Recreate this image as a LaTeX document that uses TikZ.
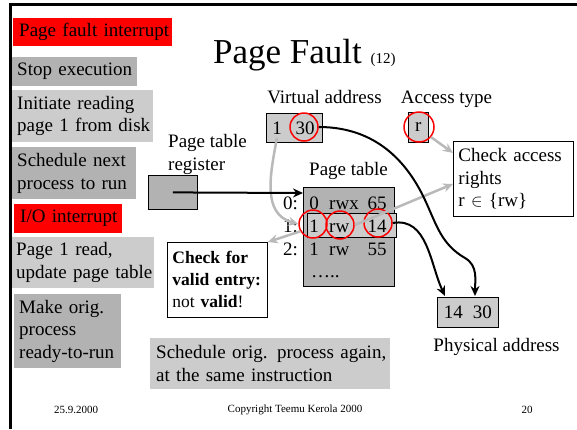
\documentclass[tikz,border=0pt]{standalone}
\usepackage{fontspec}
\setmainfont{Liberation Serif}
\usepackage{xcolor}
\usepackage{tikz}
\usetikzlibrary{arrows.meta,calc}

\definecolor{slidered}{RGB}{255,0,0}
\definecolor{boxgray}{RGB}{178,178,178}
\definecolor{boxlight}{RGB}{204,204,204}
\definecolor{arrowgray}{RGB}{185,185,185}

\newcommand{\bodyfont}{\fontsize{19}{22.5}\selectfont}
\newcommand{\notefont}{\fontsize{17.5}{22}\selectfont}
\newcommand{\footfont}{\fontsize{11}{13}\selectfont}

\tikzset{
    leftbox/.style={anchor=north west, inner sep=0pt,
        execute at begin node={\parindent=0pt\leftskip=#1\rightskip=0pt plus 1fil\hyphenpenalty=10000\exhyphenpenalty=10000}},
    leftbox/.default=5pt,
    redbox/.style={leftbox=#1, fill=slidered},
    redbox/.default=5pt,
    graybox/.style={leftbox=#1, fill=boxgray},
    graybox/.default=5pt,
    lightbox/.style={leftbox=#1, fill=boxlight},
    lightbox/.default=5pt,
    notebox/.style={leftbox=#1, draw, fill=white, line width=0.9pt},
    notebox/.default=5pt,
    plainbox/.style={draw, anchor=north west, inner sep=0pt, line width=0.8pt},
    cell/.style={inner sep=0pt},
    hit/.style={circle, draw=red, line width=1.5pt, minimum size=28pt, inner sep=0pt},
    fwd/.style={->, line width=2pt},
    back/.style={->, draw=arrowgray, line width=2.5pt}
}

\begin{document}
\begin{tikzpicture}[x=1pt, y=-1pt, >={Stealth[length=10pt,width=9pt]}, font=\bodyfont]

    % Slide frame
    \useasboundingbox (0,0) rectangle (577,429);
    \draw[line width=2.5pt] (10.5,429) -- (10.5,4.5) -- (577,4.5);

    % Title
    \node[anchor=base west, inner sep=0pt] (title) at (213,63)
        {{\fontsize{35}{40}\selectfont Page Fault }{\fontsize{15}{18}\selectfont (12)}};

    % Steps on the left
    \node[redbox=6pt, text width=159pt, minimum height=28pt] (pfint) at (13,18) {Page fault interrupt};
    \node[graybox, text width=125pt, minimum height=29pt] (stop) at (12,57) {Stop execution};
    \node[lightbox, text width=141pt, minimum height=52pt] (initread) at (12,90) {Initiate reading\\page 1 from disk};
    \node[graybox, text width=124pt, minimum height=52pt] (schednext) at (12,147) {Schedule next\\process to run};
    \node[redbox=6pt, text width=108pt, minimum height=29pt] (iointr) at (14,204) {I/O interrupt};
    \node[lightbox=4pt, text width=142pt, minimum height=51pt] (pageread) at (12,237) {Page 1 read,\\update page table};
    \node[graybox, text width=107pt, minimum height=74pt] (makeready) at (14,294) {Make orig.\\process\\ready-to-run};
    \node[lightbox=6pt, text width=240pt, minimum height=51pt] (schedagain) at (150,338) {Schedule orig. process again,\\at the same instruction};

    % Checks
    \node[notebox, font=\notefont, text width=100pt, minimum height=75pt] (checkvalid) at (167,242)
        {\textbf{Check for}\\\textbf{valid entry:}\\not \textbf{valid}!};
    \node[notebox, text width=120pt, minimum height=75pt] (checkacc) at (453,141)
        {Check access\\rights\\r~$\in$~\{rw\}};

    % Labels
    \node[anchor=base] (valabel) at (324.5,103) {Virtual address};
    \node[anchor=base] (atlabel) at (446.5,103) {Access type};
    \node[anchor=base west, align=left, inner sep=0pt] (ptrlabel) at (168,170) {Page table\\register};
    \node[anchor=base] (ptlabel) at (348.5,175) {Page table};
    \node[anchor=base] (palabel) at (496.5,351) {Physical address};

    % Virtual address and access type
    \node[plainbox, fill=boxlight, minimum width=56pt, minimum height=29pt] (vaddr) at (266,113) {};
    \node (vpage) at (277,128) {1};
    \node (voff) at (305,128) {30};
    \node[plainbox, fill=boxlight, minimum width=20pt, minimum height=30pt] (acc) at (408,112) {r};

    % Page table register
    \node[plainbox, fill=boxgray, minimum width=49pt, minimum height=34pt] (ptreg) at (148,175) {};
    \coordinate (ptin) at (303,193);

    % Page table
    \node[plainbox, fill=boxgray, minimum width=91pt, minimum height=99pt] (ptable) at (303,187) {};
    \node[plainbox, fill=boxlight, minimum width=89pt, minimum height=24pt] (ptrow) at (307,213) {};
    \foreach \n/\y/\v/\p/\f in {0/209/0/rwx/65, 1/232/1/rw/14, 2/255/1/rw/55}
    {
        \node[cell, anchor=base east] (lab\n) at (298,\y) {\n:};
        \node[cell, anchor=base] (valid\n) at (314,\y) {\v};
        \node[cell, anchor=base west] (perm\n) at (329,\y) {\p};
        \node[cell, anchor=base] (frame\n) at (377,\y) {\f};
    }
    \node[cell, anchor=base west] (more) at (311,277) {…..};

    % Physical address
    \node[plainbox, fill=boxlight, minimum width=61pt, minimum height=30pt] (paddr) at (437,297) {14\hspace{10pt}30};
    \coordinate (pa14) at (445,296);
    \coordinate (pa30) at (475,296);

    % Circled fields
    \node[hit] (c30) at (304,127) {};
    \node[hit, minimum size=30pt] (cr) at (419,127) {};
    \node[hit] (c1) at (313,224) {};
    \node[hit] (crw) at (340,225) {};
    \node[hit] (c14) at (378,223) {};

    % Checking (gray)
    \draw[back] (vpage.south) .. controls (270,175) and (262,214) .. (c1.west);
    \draw[back] (c1.210) -- (checkvalid.north east);
    \draw[back] (crw.east) -- ($(checkacc.west)+(0,5)$);
    \draw[back] (cr.-40) -- ($(checkacc.west)+(0,-26)$);

    % Translation (black)
    \draw[fwd] (ptreg.center) -- (ptin);
    \draw[fwd] (c30.east) to[out=0, in=115] (425,200) to[out=-65, in=150] (465,258) to[out=-30, in=90] (pa30);
    \draw[fwd] (c14.east) to[out=10, in=115] (pa14);

    % Footer
    \node[font=\footfont] (date) at (76,410) {25.9.2000};
    \node[font=\footfont] (copyright) at (295,410) {Copyright Teemu Kerola 2000};
    \node[font=\footfont] (pageno) at (527,410) {20};

\end{tikzpicture}
\end{document}
